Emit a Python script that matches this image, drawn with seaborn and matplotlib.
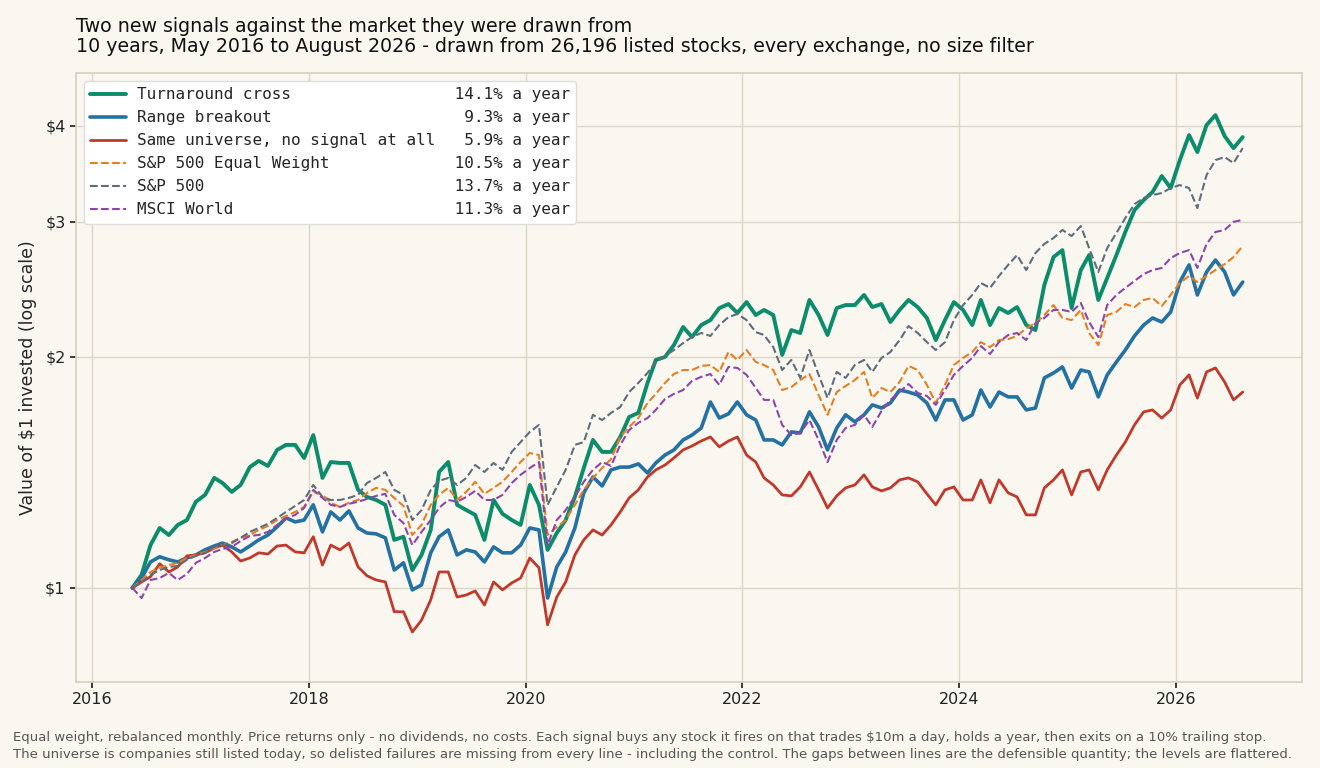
import matplotlib
matplotlib.use("Agg")
import matplotlib.pyplot as plt
import matplotlib.dates as mdates
from matplotlib.ticker import NullLocator, FixedLocator, FixedFormatter
import pandas as pd
import seaborn as sns

# month-by-month values of $1 invested, May 2016 .. Aug 2026
months = pd.date_range("2016-05-01", "2026-08-01", freq="MS") + pd.Timedelta(days=14)

turnaround = [
    1.000, 1.040, 1.137, 1.197, 1.172, 1.208, 1.226, 1.295, 1.322, 1.391,
    1.370, 1.334, 1.362, 1.437, 1.464, 1.442, 1.513, 1.536, 1.536, 1.477,
    1.582, 1.391, 1.459, 1.455, 1.455, 1.342, 1.314, 1.302, 1.283, 1.155,
    1.166, 1.055, 1.104, 1.190, 1.416, 1.459, 1.283, 1.263, 1.245, 1.155,
    1.302, 1.249, 1.226, 1.208, 1.362, 1.283, 1.121, 1.179, 1.226, 1.314,
    1.433, 1.559, 1.504, 1.504, 1.573, 1.670, 1.691, 1.850, 1.982, 2.000,
    2.073, 2.188, 2.123, 2.201, 2.234, 2.316, 2.344, 2.282, 2.358, 2.268,
    2.303, 2.268, 2.012, 2.168, 2.149, 2.373, 2.268, 2.136, 2.316, 2.337,
    2.337, 2.409, 2.323, 2.344, 2.221, 2.303, 2.373, 2.323, 2.248, 2.104,
    2.234, 2.358, 2.303, 2.201, 2.373, 2.201, 2.316, 2.282, 2.323, 2.201,
    2.168, 2.482, 2.699, 2.756, 2.316, 2.596, 2.715, 2.373, 2.535, 2.715,
    2.910, 3.108, 3.203, 3.281, 3.442, 3.320, 3.611, 3.892, 3.699, 4.011,
    4.133, 3.880, 3.743, 3.869,
]
breakout = [
    1.000, 1.030, 1.081, 1.098, 1.088, 1.081, 1.094, 1.104, 1.121, 1.134,
    1.144, 1.131, 1.114, 1.134, 1.155, 1.172, 1.201, 1.234, 1.219, 1.226,
    1.283, 1.183, 1.256, 1.226, 1.260, 1.197, 1.179, 1.176, 1.162, 1.055,
    1.078, 0.994, 1.009, 1.111, 1.166, 1.190, 1.104, 1.121, 1.114, 1.081,
    1.131, 1.111, 1.111, 1.137, 1.197, 1.190, 0.970, 1.065, 1.114, 1.197,
    1.330, 1.395, 1.358, 1.425, 1.437, 1.437, 1.451, 1.412, 1.455, 1.490,
    1.513, 1.559, 1.582, 1.616, 1.747, 1.665, 1.686, 1.747, 1.681, 1.655,
    1.559, 1.559, 1.536, 1.597, 1.592, 1.696, 1.621, 1.513, 1.616, 1.681,
    1.646, 1.681, 1.732, 1.716, 1.742, 1.811, 1.800, 1.784, 1.742, 1.655,
    1.758, 1.758, 1.655, 1.681, 1.811, 1.721, 1.800, 1.774, 1.774, 1.706,
    1.716, 1.878, 1.906, 1.941, 1.822, 1.923, 1.912, 1.774, 1.895, 1.970,
    2.042, 2.130, 2.201, 2.248, 2.221, 2.289, 2.504, 2.636, 2.409, 2.581,
    2.675, 2.581, 2.409, 2.504,
]
no_signal = [
    1.000, 1.018, 1.034, 1.075, 1.049, 1.065, 1.101, 1.104, 1.111, 1.127,
    1.137, 1.114, 1.084, 1.094, 1.111, 1.107, 1.134, 1.137, 1.114, 1.111,
    1.166, 1.071, 1.137, 1.121, 1.144, 1.065, 1.037, 1.024, 1.018, 0.931,
    0.931, 0.876, 0.908, 0.965, 1.049, 1.049, 0.973, 0.979, 0.991, 0.950,
    1.018, 0.994, 1.015, 1.030, 1.094, 1.062, 0.895, 0.973, 1.018, 1.104,
    1.155, 1.190, 1.172, 1.208, 1.256, 1.310, 1.342, 1.395, 1.425, 1.446,
    1.477, 1.513, 1.531, 1.554, 1.573, 1.527, 1.554, 1.573, 1.490, 1.459,
    1.391, 1.362, 1.322, 1.318, 1.354, 1.416, 1.342, 1.271, 1.318, 1.350,
    1.362, 1.404, 1.354, 1.338, 1.350, 1.383, 1.391, 1.375, 1.326, 1.283,
    1.342, 1.354, 1.302, 1.302, 1.383, 1.291, 1.383, 1.330, 1.314, 1.245,
    1.245, 1.350, 1.383, 1.425, 1.322, 1.416, 1.425, 1.342, 1.425, 1.490,
    1.549, 1.631, 1.696, 1.706, 1.665, 1.706, 1.839, 1.895, 1.768, 1.912,
    1.935, 1.855, 1.758, 1.800,
]
sp500_ew = [
    1.000, 1.024, 1.049, 1.062, 1.071, 1.078, 1.094, 1.104, 1.114, 1.127,
    1.137, 1.148, 1.162, 1.172, 1.190, 1.204, 1.226, 1.241, 1.256, 1.275,
    1.334, 1.322, 1.291, 1.275, 1.291, 1.302, 1.330, 1.350, 1.342, 1.310,
    1.279, 1.172, 1.208, 1.283, 1.322, 1.350, 1.302, 1.334, 1.375, 1.326,
    1.350, 1.375, 1.416, 1.459, 1.499, 1.490, 1.172, 1.200, 1.226, 1.283,
    1.342, 1.391, 1.433, 1.472, 1.573, 1.621, 1.665, 1.742, 1.790, 1.850,
    1.900, 1.923, 1.923, 1.947, 1.952, 1.912, 2.030, 1.982, 2.042, 1.970,
    1.952, 1.923, 1.811, 1.827, 1.866, 1.900, 1.784, 1.681, 1.800, 1.833,
    1.866, 1.912, 1.768, 1.822, 1.800, 1.855, 1.947, 1.923, 1.839, 1.742,
    1.839, 1.952, 1.994, 2.030, 2.091, 2.060, 2.104, 2.110, 2.130, 2.181,
    2.214, 2.268, 2.337, 2.248, 2.234, 2.303, 2.149, 2.073, 2.268, 2.289,
    2.344, 2.323, 2.373, 2.387, 2.330, 2.409, 2.497, 2.550, 2.504, 2.550,
    2.596, 2.643, 2.699, 2.790,
]
sp500 = [
    1.000, 1.018, 1.040, 1.055, 1.065, 1.068, 1.088, 1.101, 1.111, 1.131,
    1.137, 1.144, 1.162, 1.183, 1.197, 1.212, 1.234, 1.256, 1.279, 1.302,
    1.362, 1.314, 1.302, 1.302, 1.310, 1.322, 1.370, 1.391, 1.416, 1.342,
    1.322, 1.226, 1.263, 1.342, 1.379, 1.391, 1.362, 1.391, 1.446, 1.416,
    1.455, 1.425, 1.504, 1.549, 1.597, 1.631, 1.283, 1.354, 1.425, 1.536,
    1.549, 1.681, 1.655, 1.691, 1.721, 1.800, 1.850, 1.906, 1.970, 2.006,
    2.042, 2.085, 2.123, 2.149, 2.130, 2.201, 2.254, 2.275, 2.234, 2.155,
    2.136, 2.060, 1.923, 1.982, 1.878, 2.042, 1.895, 1.768, 1.912, 1.878,
    1.952, 1.982, 1.912, 1.994, 2.030, 2.104, 2.194, 2.149, 2.091, 2.042,
    2.091, 2.234, 2.337, 2.409, 2.497, 2.460, 2.550, 2.636, 2.715, 2.596,
    2.732, 2.807, 2.858, 2.928, 2.875, 2.962, 2.773, 2.581, 2.773, 2.901,
    3.034, 3.164, 3.222, 3.251, 3.271, 3.320, 3.350, 3.320, 3.127, 3.452,
    3.611, 3.644, 3.579, 3.743,
]
msci_world = [
    1.000, 0.970, 1.024, 1.030, 1.046, 1.024, 1.043, 1.078, 1.094, 1.114,
    1.124, 1.131, 1.151, 1.169, 1.172, 1.183, 1.208, 1.230, 1.245, 1.271,
    1.342, 1.310, 1.283, 1.275, 1.287, 1.295, 1.306, 1.318, 1.326, 1.245,
    1.215, 1.137, 1.183, 1.226, 1.271, 1.302, 1.295, 1.314, 1.338, 1.302,
    1.302, 1.322, 1.370, 1.404, 1.433, 1.459, 1.137, 1.226, 1.263, 1.314,
    1.375, 1.425, 1.459, 1.442, 1.536, 1.606, 1.641, 1.665, 1.706, 1.763,
    1.790, 1.811, 1.861, 1.884, 1.900, 1.839, 1.941, 1.935, 1.895, 1.822,
    1.758, 1.758, 1.631, 1.582, 1.592, 1.655, 1.559, 1.459, 1.559, 1.616,
    1.631, 1.681, 1.621, 1.701, 1.758, 1.800, 1.844, 1.795, 1.779, 1.732,
    1.811, 1.895, 1.947, 1.994, 2.066, 2.018, 2.091, 2.136, 2.149, 2.104,
    2.214, 2.248, 2.303, 2.303, 2.289, 2.351, 2.221, 2.123, 2.337, 2.409,
    2.460, 2.512, 2.565, 2.596, 2.612, 2.691, 2.732, 2.756, 2.612, 2.807,
    2.910, 2.928, 3.000, 3.018,
]

names = ["Turnaround cross", "Range breakout", "Same universe, no signal at all",
         "S&P 500 Equal Weight", "S&P 500", "MSCI World"]
annual = [14.1, 9.3, 5.9, 10.5, 13.7, 11.3]
series = [turnaround, breakout, no_signal, sp500_ew, sp500, msci_world]
colors = ["#0b8c6b", "#2471a3", "#c0392b", "#e67e22", "#5d6d7e", "#8e44ad"]
widths = [2.8, 2.6, 2.0, 1.5, 1.5, 1.5]
styles = ["-", "-", "-", "--", "--", "--"]

bg = "#faf7f0"
sns.set_theme(style="ticks", rc={
    "figure.facecolor": bg,
    "axes.facecolor": bg,
    "axes.edgecolor": "#d8d0bf",
    "axes.grid": True,
    "grid.color": "#ddd6c6",
    "grid.linewidth": 1.0,
    "xtick.color": "#222222",
    "ytick.color": "#222222",
})
plt.rcParams["font.family"] = ["DejaVu Sans"]

fig, ax = plt.subplots(figsize=(13.2, 7.68), dpi=100)
fig.subplots_adjust(left=0.0576, right=0.9864, bottom=0.112, top=0.905)

for name, rate, vals, c, lw, ls in zip(names, annual, series, colors, widths, styles):
    label = f"{name:<33}{rate:>4.1f}% a year"
    sns.lineplot(x=months, y=vals, ax=ax, color=c, linewidth=lw,
                 linestyle=ls, label=label)

ax.set_yscale("log")
ax.set_ylim(0.754, 4.69)
ax.yaxis.set_major_locator(FixedLocator([1, 2, 3, 4]))
ax.yaxis.set_major_formatter(FixedFormatter(["$1", "$2", "$3", "$4"]))
ax.yaxis.set_minor_locator(NullLocator())
ax.set_xlim(pd.Timestamp("2015-11-07"), pd.Timestamp("2027-03-03"))
ax.xaxis.set_major_locator(mdates.YearLocator(2))
ax.xaxis.set_major_formatter(mdates.DateFormatter("%Y"))
ax.tick_params(labelsize=11.5, length=4)
ax.set_xlabel("")
ax.set_ylabel("Value of $1 invested (log scale)", fontsize=12.5, labelpad=6)
for s in ax.spines.values():
    s.set_color("#d8d0bf")

leg = ax.legend(loc="upper left", prop={"family": "DejaVu Sans Mono", "size": 11.5},
                frameon=True, facecolor="white", edgecolor="#dddddd",
                framealpha=1.0, handlelength=2.2, handletextpad=0.7, fancybox=True)

fig.text(76 / 1320, 1 - 17 / 768,
         "Two new signals against the market they were drawn from\n"
         "10 years, May 2016 to August 2026 - drawn from 26,196 listed stocks, every exchange, no size filter",
         ha="left", va="top", fontsize=13.7, color="#111111", linespacing=1.1)

fig.text(13 / 1320, 1 - 731 / 768,
         "Equal weight, rebalanced monthly. Price returns only - no dividends, no costs. "
         "Each signal buys any stock it fires on that trades $10m a day, holds a year, then exits on a 10% trailing stop.\n"
         "The universe is companies still listed today, so delisted failures are missing from every line - "
         "including the control. The gaps between lines are the defensible quantity; the levels are flattered.",
         ha="left", va="top", fontsize=9.55, color="#555555", linespacing=1.4)

fig.savefig("out.png", dpi=100, facecolor=bg)
